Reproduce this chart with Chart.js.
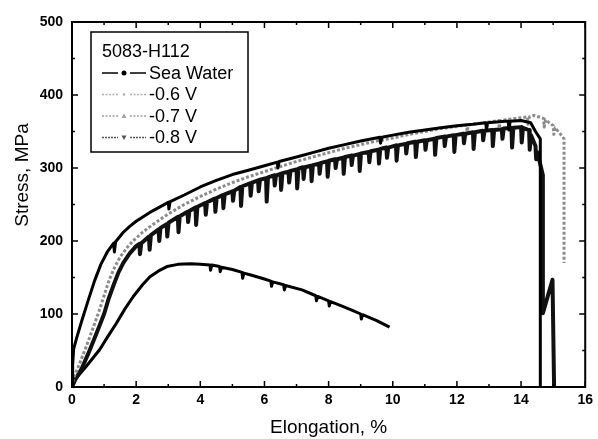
<!DOCTYPE html>
<html>
<head>
<meta charset="utf-8">
<script src="https://cdn.jsdelivr.net/npm/chart.js@4/dist/chart.umd.min.js"></script>
<style>
  body { margin: 0; background: #fff; }
  #wrap { width: 598px; height: 439px; }
</style>
</head>
<body>
<div id="wrap"><canvas id="c" width="598" height="439"></canvas></div>
<script>
// legend entries and curves (elongation %, stress MPa)
const alloyName = '5083-H112';
const seriesLabels = ['Sea Water', '-0.6 V', '-0.7 V', '-0.8 V'];
const xTickLabels = [0, 2, 4, 6, 8, 10, 12, 14, 16];
const yTickLabels = [0, 100, 200, 300, 400, 500];

const seaWater = [[0,0],[0.02,30],[0.05,52],[0.15,68],[0.3,90],[0.5,118],[0.7,145],[0.9,168],[1.1,185],
  [1.3,197],[1.32,185],[1.36,199],[1.6,212],[1.8,220],[2.0,227],[2.5,241],[3.0,253],[3.02,244],[3.06,254],
  [3.5,263],[4.0,274],[4.5,283],[5.0,291],[5.5,297],[6.0,303],[6.4,308],[6.42,300],[6.46,309],[7.0,315],
  [7.5,321],[8.0,327],[8.5,332],[9.0,337],[9.6,342],[9.62,334],[9.66,342],[10.0,345],[10.5,349],[11.0,352],
  [11.5,355],[12.0,358],[12.5,360],[12.9,362],[12.92,352],[12.96,362],[13.5,364],[13.6,364],[13.62,352],
  [13.66,364],[14.0,365],[14.3,362],[14.45,350],[14.6,340],[14.6,0]];

const minus06 = [[0,0],[0.05,12],[0.2,28],[0.44,55],[0.65,80],[0.86,106],[1.05,132],[1.17,148],[1.35,166],
  [1.5,178],[1.7,190],[1.9,200],[2.2,212],[2.5,222],[3.0,237],[3.5,250],[4.0,261],[4.5,271],[5.0,280],
  [5.5,288],[6.0,295],[6.5,302],[7.0,309],[7.5,315],[8.0,321],[8.5,327],[9.0,332],[9.5,337],[10.0,341],
  [10.5,346],[11.0,350],[11.5,354],[12.0,357],[12.3,359],[12.32,350],[12.36,359],[13.0,363],[13.3,365],
  [13.32,354],[13.36,365],[14.0,369],[14.2,370],[14.22,358],[14.26,370],[14.4,372],[14.7,368],[14.72,356],
  [14.76,366],[15.0,358],[15.02,346],[15.06,355],[15.2,348],[15.34,340],[15.34,170]];

const minus07 = [[0,0],[0.1,10],[0.3,25],[0.5,45],[0.75,72],[1.0,100],[1.15,122],[1.3,140],[1.45,157],
  [1.6,170],[1.8,183],[2.0,193],[2.1,196],[2.12,182],[2.16,197],[2.4,206],[2.42,188],[2.46,208],[2.7,216],
  [2.72,200],[2.76,218],[2.95,223],[2.97,206],[3.01,225],[3.3,233],[3.32,212],[3.36,234],[3.6,240],
  [3.62,226],[3.66,241],[3.85,246],[3.87,222],[3.91,247],[4.15,252],[4.17,236],[4.21,253],[4.45,258],
  [4.47,240],[4.51,259],[4.7,263],[4.72,245],[4.76,264],[5.0,268],[5.02,255],[5.06,269],[5.25,274],
  [5.27,248],[5.31,275],[5.55,279],[5.57,262],[5.61,280],[5.8,283],[5.82,268],[5.86,284],[6.05,286],
  [6.07,254],[6.11,287],[6.3,290],[6.32,276],[6.36,290],[6.5,292],[6.52,270],[6.56,293],[6.75,295],
  [6.77,280],[6.81,296],[7.0,298],[7.02,272],[7.06,299],[7.2,301],[7.22,285],[7.26,301],[7.45,303],
  [7.47,282],[7.51,304],[7.7,306],[7.72,292],[7.76,307],[7.95,309],[7.97,288],[8.01,310],[8.2,312],
  [8.22,300],[8.26,312],[8.45,314],[8.47,292],[8.51,315],[8.7,317],[8.72,304],[8.76,317],[8.95,319],
  [8.97,296],[9.01,320],[9.25,322],[9.27,308],[9.31,323],[9.55,325],[9.57,306],[9.61,326],[9.8,328],
  [9.82,314],[9.86,328],[10.1,331],[10.12,310],[10.16,331],[10.4,333],[10.42,320],[10.46,334],[10.7,336],
  [10.72,315],[10.76,336],[11.0,338],[11.02,325],[11.06,338],[11.3,340],[11.32,318],[11.36,341],[11.6,343],
  [11.62,330],[11.66,343],[11.9,345],[11.92,322],[11.96,345],[12.2,347],[12.22,334],[12.26,347],[12.5,349],
  [12.52,326],[12.56,349],[12.8,351],[12.82,338],[12.86,351],[13.1,352],[13.12,330],[13.16,352],[13.4,353],
  [13.42,340],[13.46,354],[13.7,355],[13.72,328],[13.76,355],[14.0,356],[14.02,335],[14.06,355],[14.25,352],
  [14.27,325],[14.31,345],[14.45,330],[14.47,312],[14.5,322],[14.6,305],[14.68,290],[14.68,101],[14.98,147],
  [15.03,0]];

const minus08 = [[0,0],[0.05,8],[0.44,28],[0.86,51],[1.1,68],[1.38,87],[1.65,107],[1.91,124],[2.2,140],
  [2.43,151],[2.7,159],[2.96,165],[3.3,168],[3.7,169],[4.0,168],[4.3,167],[4.32,160],[4.36,167],[4.6,165],
  [4.62,158],[4.66,164],[5.0,161],[5.3,157],[5.32,149],[5.36,156],[5.6,153],[6.0,148],[6.2,145],[6.22,138],
  [6.26,144],[6.6,140],[6.62,133],[6.66,139],[7.17,133],[7.6,125],[7.62,118],[7.66,124],[8.0,118],[8.02,111],
  [8.06,117],[8.4,111],[8.74,105],[9.0,100],[9.02,93],[9.06,99],[9.5,91],[9.9,82]];

const curves = [seaWater, minus06, minus07, minus08];
const lineColors = ['#000', '#8c8c8c', '#111', '#000'];
const lineDashes = [[], [3, 2], [], []];
const lineWidths = [3, 3, 4, 3];
const legendColors = ['#000', '#b0b0b0', '#a0a0a0', '#555'];
const legendDashes = [[], [2, 1.5], [2, 1.5], [2, 1]];
const legendMarkers = ['circle', 'dot', 'triangle', 'down'];

const FONT = '"Liberation Sans", Arial, sans-serif';

const frameTicks = {
  id: 'frameTicks',
  afterDraw(chart) {
    const { ctx, chartArea: a, scales: { x, y } } = chart;
    ctx.save();
    ctx.strokeStyle = '#000';
    ctx.lineWidth = 2;
    ctx.strokeRect(a.left, a.top, a.right - a.left, a.bottom - a.top);
    ctx.lineWidth = 1.5;
    ctx.beginPath();
    for (let v = 0; v <= 16; v++) {
      const px = x.getPixelForValue(v);
      const len = v % 2 === 0 ? 6 : 3;
      ctx.moveTo(px, a.bottom); ctx.lineTo(px, a.bottom - len);
      ctx.moveTo(px, a.top); ctx.lineTo(px, a.top + len);
    }
    for (let v = 0; v <= 500; v += 50) {
      const py = y.getPixelForValue(v);
      const len = v % 100 === 0 ? 6 : 3;
      ctx.moveTo(a.left, py); ctx.lineTo(a.left + len, py);
      ctx.moveTo(a.right, py); ctx.lineTo(a.right - len, py);
    }
    ctx.stroke();

    // y axis title
    ctx.fillStyle = '#000';
    ctx.font = '19px ' + FONT;
    ctx.textAlign = 'center';
    ctx.textBaseline = 'middle';
    ctx.translate(23, 175);
    ctx.rotate(-Math.PI / 2);
    ctx.fillText('Stress, MPa', 0, 0);
    ctx.restore();
  }
};

function drawMarker(ctx, kind, cx, cy) {
  ctx.beginPath();
  if (kind === 'circle') ctx.arc(cx, cy, 2.5, 0, Math.PI * 2);
  else if (kind === 'dot') ctx.arc(cx, cy, 1.3, 0, Math.PI * 2);
  else if (kind === 'triangle') { ctx.moveTo(cx, cy - 2.5); ctx.lineTo(cx + 2.5, cy + 2); ctx.lineTo(cx - 2.5, cy + 2); }
  else { ctx.moveTo(cx, cy + 2.5); ctx.lineTo(cx + 2.5, cy - 2); ctx.lineTo(cx - 2.5, cy - 2); }
  ctx.closePath();
  ctx.fill();
}

const boxLegend = {
  id: 'boxLegend',
  afterDraw(chart) {
    const ctx = chart.ctx;
    ctx.save();
    ctx.strokeStyle = '#000';
    ctx.lineWidth = 1.5;
    ctx.strokeRect(91, 32, 157, 120);
    ctx.fillStyle = '#000';
    ctx.font = '18px ' + FONT;
    ctx.textBaseline = 'middle';
    ctx.textAlign = 'left';
    ctx.fillText(alloyName, 102, 52);
    chart.data.datasets.forEach((ds, i) => {
      const yy = 73 + i * 21.5;
      ctx.strokeStyle = legendColors[i];
      ctx.fillStyle = legendColors[i];
      ctx.lineWidth = 1.5;
      ctx.setLineDash(legendDashes[i]);
      ctx.beginPath();
      ctx.moveTo(102, yy); ctx.lineTo(118, yy);
      ctx.moveTo(130, yy); ctx.lineTo(146, yy);
      ctx.stroke();
      ctx.setLineDash([]);
      drawMarker(ctx, legendMarkers[i], 124, yy);
      ctx.fillStyle = '#000';
      ctx.fillText(ds.label, 149, yy + 1);
    });
    ctx.restore();
  }
};

new Chart(document.getElementById('c'), {
  type: 'line',
  data: {
    datasets: curves.map((c, i) => ({
      label: seriesLabels[i],
      data: c.map(p => ({ x: p[0], y: p[1] })),
      borderColor: lineColors[i],
      borderWidth: lineWidths[i],
      borderDash: lineDashes[i],
      borderJoinStyle: 'round',
      borderCapStyle: 'butt',
      pointRadius: 0,
      tension: 0,
      fill: false
    }))
  },
  options: {
    responsive: false,
    animation: false,
    layout: { padding: { top: 22, right: 10, left: 0, bottom: 0 } },
    plugins: { legend: { display: false }, tooltip: { enabled: false } },
    scales: {
      x: {
        type: 'linear', min: 0, max: 16,
        afterFit: s => { s.height = 52; },
        afterBuildTicks: s => { s.ticks = xTickLabels.map(v => ({ value: v })); },
        grid: { display: false, drawTicks: false },
        border: { display: false },
        ticks: { color: '#000', padding: 5, maxRotation: 0, font: { family: FONT, size: 14, weight: 'bold' } },
        title: { display: true, text: 'Elongation, %', color: '#000', padding: { top: 0, bottom: 0 },
          font: { family: FONT, size: 19 } }
      },
      y: {
        type: 'linear', min: 0, max: 500,
        afterFit: s => { s.width = 72; },
        afterBuildTicks: s => { s.ticks = yTickLabels.map(v => ({ value: v })); },
        grid: { display: false, drawTicks: false },
        border: { display: false },
        ticks: { color: '#000', padding: 9, font: { family: FONT, size: 14, weight: 'bold' } }
      }
    }
  },
  plugins: [frameTicks, boxLegend]
});
</script>
</body>
</html>
